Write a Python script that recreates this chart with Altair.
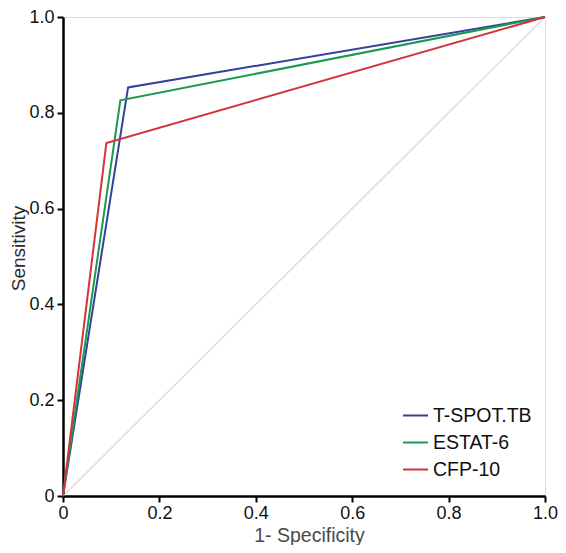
import altair as alt
import pandas as pd

tests = ["T-SPOT.TB", "ESTAT-6", "CFP-10"]
fpr_tspot = [0.0, 0.135, 1.0]
tpr_tspot = [0.0, 0.853, 1.0]
fpr_estat = [0.0, 0.119, 1.0]
tpr_estat = [0.0, 0.826, 1.0]
fpr_cfp = [0.0, 0.090, 1.0]
tpr_cfp = [0.0, 0.737, 1.0]
colors = ["#34409c", "#1b9a4f", "#d1343a"]
ref_x = [0.0, 1.0]
ref_y = [0.0, 1.0]
tick_vals = [0.0, 0.2, 0.4, 0.6, 0.8, 1.0]

rows = []
for name, xs, ys in zip(tests, [fpr_tspot, fpr_estat, fpr_cfp], [tpr_tspot, tpr_estat, tpr_cfp]):
    for i, (x, y) in enumerate(zip(xs, ys)):
        rows.append({"test": name, "fpr": x, "tpr": y, "order": i})
df = pd.DataFrame(rows)
ref = pd.DataFrame({"fpr": ref_x, "tpr": ref_y})

FONT = "Liberation Sans"
label_expr = "datum.value == 0 ? '0' : format(datum.value, '.1f')"

xscale = alt.Scale(domain=[0, 1], nice=False, zero=True)
yscale = alt.Scale(domain=[0, 1], nice=False, zero=True)

xaxis = alt.Axis(
    values=tick_vals, labelExpr=label_expr, title="1- Specificity",
    grid=False, domainColor="black", domainWidth=2.5, tickColor="black",
    tickWidth=2, tickSize=6, labelFontSize=18, labelFont=FONT, labelColor="#111111",
    labelPadding=2, titleFont=FONT, titleFontSize=19.5, titleFontWeight="normal",
    titleColor="#4a4a4a", titleX=246, titleY=45, titleBaseline="alphabetic",
    titleAlign="center", labelFlush=False,
)
yaxis = alt.Axis(
    values=tick_vals, labelExpr=label_expr, title="Sensitivity",
    grid=False, domainColor="black", domainWidth=2.5, tickColor="black",
    tickWidth=2, tickSize=6, labelFontSize=18, labelFont=FONT, labelColor="#111111",
    labelPadding=3, titleFont=FONT, titleFontSize=19, titleFontWeight="normal",
    titleColor="#2a2a2a", titleX=-45, titleY=231, titleAngle=-90,
    titleBaseline="middle", titleAlign="center", labelFlush=False,
)

diag = alt.Chart(ref).mark_line(color="#dcdcdc", strokeWidth=1.5).encode(
    x=alt.X("fpr:Q", scale=xscale, axis=xaxis),
    y=alt.Y("tpr:Q", scale=yscale, axis=yaxis),
)

lines = alt.Chart(df).mark_line(strokeWidth=2).encode(
    x=alt.X("fpr:Q", scale=xscale, axis=xaxis),
    y=alt.Y("tpr:Q", scale=yscale, axis=yaxis),
    order="order:Q",
    color=alt.Color(
        "test:N",
        scale=alt.Scale(domain=tests, range=colors),
        sort=tests,
        legend=alt.Legend(
            title=None, orient="none", legendX=339, legendY=385,
            symbolType="stroke", symbolStrokeWidth=2, symbolSize=625,
            labelFontSize=19.5, labelFont=FONT, labelColor="#111111",
            labelOffset=4, rowPadding=4, padding=0,
        ),
    ),
)

chart = (diag + lines).properties(
    width=482, height=479,
    autosize=alt.AutoSizeParams(type="none"),
    padding={"left": 55, "top": 9, "right": 13, "bottom": 49},
).configure_view(stroke="black", strokeWidth=2.5).configure(background="white")

chart.save("out.html", embed_options={"renderer": "svg", "actions": False})
